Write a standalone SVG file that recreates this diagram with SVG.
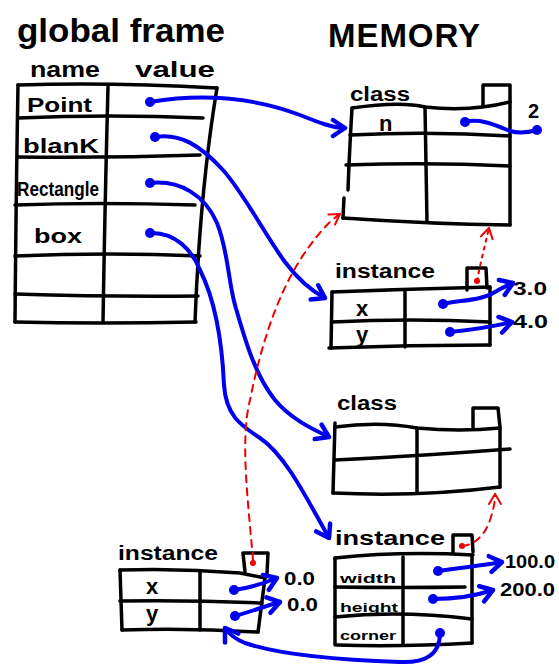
<svg xmlns="http://www.w3.org/2000/svg" width="559" height="666" viewBox="0 0 559 666">
  <style>
    .ink { fill: none; stroke: #000; stroke-width: 3.5; stroke-linecap: round; stroke-linejoin: round; }
    .ref { fill: none; stroke: #0000ee; stroke-width: 4; stroke-linecap: round; stroke-linejoin: round; }
    .ptr { fill: none; stroke: #ee0000; stroke-width: 2; stroke-linecap: round; }
    .dash { stroke-dasharray: 7 6; }
    .dot { stroke-dasharray: 3 5; }
    .src { fill: #0000ee; }
    .rsrc { fill: #ee0000; }
    text { font-family: "Liberation Sans", "DejaVu Sans", sans-serif; font-weight: bold; fill: #000; }
    .title { font-size: 33px; }
    .head { font-size: 22px; }
    .lbl { font-size: 20px; }
    .var { font-size: 22px; }
    .fld { font-size: 12px; }
    .val { font-size: 19px; }
  </style>
  <defs>
    <marker id="blue-head" markerUnits="userSpaceOnUse" viewBox="-16 -11 19 22" markerWidth="19" markerHeight="22" refX="0" refY="0" orient="auto">
      <path d="M-12,-8 L0,0 L-12,8" fill="none" stroke="#0000ee" stroke-width="4.5" stroke-linecap="round" stroke-linejoin="round"/>
    </marker>
    <marker id="red-head" markerUnits="userSpaceOnUse" viewBox="-14 -10 16 20" markerWidth="16" markerHeight="20" refX="0" refY="0" orient="auto">
      <path d="M-10,-6 L0,0 L-10,6" fill="none" stroke="#ee0000" stroke-width="2" stroke-linecap="round" stroke-linejoin="round"/>
    </marker>
  </defs>

  <!-- headings -->
  <text class="title" x="17" y="42" textLength="208" lengthAdjust="spacingAndGlyphs">global frame</text>
  <text class="title" x="328" y="47" font-size="26" textLength="152" lengthAdjust="spacing">MEMORY</text>

  <!-- global frame table -->
  <g id="global-frame">
    <text class="head" x="30" y="77" textLength="70" lengthAdjust="spacingAndGlyphs">name</text>
    <text class="head" x="135" y="77" textLength="80" lengthAdjust="spacingAndGlyphs">value</text>
    <path class="ink" d="M18,85 Q110,82 217,88"/>
    <path class="ink" d="M217,88 Q200,190 195,322"/>
    <path class="ink" d="M18,85 Q16,200 15,322"/>
    <path class="ink" d="M15,322 Q100,324 196,322"/>
    <path class="ink" d="M108,87 Q105,200 103,322"/>
    <path class="ink" d="M18,118 Q110,114 203,118"/>
    <path class="ink" d="M18,157 Q110,158 200,155"/>
    <path class="ink" d="M15,205 Q100,202 195,205"/>
    <path class="ink" d="M15,256 Q110,252 200,256"/>
    <path class="ink" d="M15,294 Q110,297 198,296"/>
    <text class="lbl" x="27" y="112" textLength="65" lengthAdjust="spacingAndGlyphs">Point</text>
    <text class="lbl" x="23" y="153" textLength="76" lengthAdjust="spacingAndGlyphs">blanK</text>
    <text class="lbl" x="17" y="196" font-size="17" textLength="82" lengthAdjust="spacingAndGlyphs">Rectangle</text>
    <text class="lbl" x="34" y="243" textLength="48" lengthAdjust="spacingAndGlyphs">box</text>
  </g>

  <!-- class Point -->
  <g id="class-point">
    <text class="lbl" x="350" y="101" textLength="60" lengthAdjust="spacingAndGlyphs">class</text>
    <path class="ink" d="M483,105 L483,85 L510,85 L510,102"/>
    <path class="ink" d="M352,108 Q400,101 425,107 Q470,112 510,102"/>
    <path class="ink" d="M510,102 L510,225"/>
    <path class="ink" d="M352,108 Q349,160 348,190"/>
    <path class="ink" d="M344,198 L343,218"/>
    <path class="ink" d="M343,218 Q430,224 510,225"/>
    <path class="ink" d="M425,107 L427,222"/>
    <path class="ink" d="M350,135 Q430,131 510,136"/>
    <path class="ink" d="M346,165 Q430,162 510,166"/>
    <text class="var" x="379" y="131">n</text>
    <text class="lbl" x="528" y="118" font-size="23">2</text>
  </g>

  <!-- instance of Point: blank -->
  <g id="instance-blank">
    <text class="lbl" x="335" y="278" textLength="100" lengthAdjust="spacingAndGlyphs">instance</text>
    <path class="ink" d="M467,290 L467,268 L486,268 L487,288"/>
    <path class="ink" d="M332,292 Q410,289 490,287"/>
    <path class="ink" d="M490,287 L490,345"/>
    <path class="ink" d="M332,292 L331,348"/>
    <path class="ink" d="M329,348 Q410,345 490,345"/>
    <path class="ink" d="M405,290 L405,347"/>
    <path class="ink" d="M332,322 Q410,318 490,322"/>
    <text class="var" x="356" y="316">x</text>
    <text class="var" x="356" y="342">y</text>
    <text class="val" x="513" y="295" textLength="34" lengthAdjust="spacingAndGlyphs">3.0</text>
    <text class="val" x="513" y="328" textLength="35" lengthAdjust="spacingAndGlyphs">4.0</text>
  </g>

  <!-- class Rectangle -->
  <g id="class-rectangle">
    <text class="lbl" x="337" y="410" textLength="60" lengthAdjust="spacingAndGlyphs">class</text>
    <path class="ink" d="M473,427 L473,408 L498,408 L500,427"/>
    <path class="ink" d="M335,427 Q380,421 417,428 Q460,432 500,428"/>
    <path class="ink" d="M500,428 L500,487"/>
    <path class="ink" d="M335,423 L333,493"/>
    <path class="ink" d="M333,493 Q420,497 500,487"/>
    <path class="ink" d="M417,428 L417,493"/>
    <path class="ink" d="M335,460 Q420,456 510,449"/>
  </g>

  <!-- instance of Rectangle: box -->
  <g id="instance-box">
    <text class="lbl" x="335" y="545" textLength="110" lengthAdjust="spacingAndGlyphs">instance</text>
    <path class="ink" d="M453,553 L453,535 L472,535 L473,552"/>
    <path class="ink" d="M335,558 Q400,551 473,555"/>
    <path class="ink" d="M472,555 L472,643"/>
    <path class="ink" d="M335,558 L335,645"/>
    <path class="ink" d="M337,645 Q400,647 472,643"/>
    <path class="ink" d="M403,557 L403,645"/>
    <path class="ink" d="M335,587 Q400,588 465,587"/>
    <path class="ink" d="M335,617 Q400,610 472,619"/>
    <text class="fld" x="340" y="583" textLength="56" lengthAdjust="spacingAndGlyphs">width</text>
    <text class="fld" x="340" y="612" textLength="58" lengthAdjust="spacingAndGlyphs">height</text>
    <text class="fld" x="340" y="640" textLength="56" lengthAdjust="spacingAndGlyphs">corner</text>
    <text class="val" x="505" y="568" textLength="50" lengthAdjust="spacingAndGlyphs">100.0</text>
    <text class="val" x="500" y="596" textLength="55" lengthAdjust="spacingAndGlyphs">200.0</text>
  </g>

  <!-- instance of Point: box.corner -->
  <g id="instance-corner">
    <text class="lbl" x="118" y="560" textLength="100" lengthAdjust="spacingAndGlyphs">instance</text>
    <path class="ink" d="M245,572 L243,553 L268,553 L267,574"/>
    <path class="ink" d="M120,570 Q180,568 240,573 L265,578"/>
    <path class="ink" d="M265,578 L258,632"/>
    <path class="ink" d="M120,570 L122,630"/>
    <path class="ink" d="M122,630 Q190,628 258,632"/>
    <path class="ink" d="M200,571 L200,630"/>
    <path class="ink" d="M120,601 Q190,600 262,603"/>
    <text class="var" x="146" y="594">x</text>
    <text class="var" x="146" y="621">y</text>
    <text class="val" x="284" y="585" textLength="31" lengthAdjust="spacingAndGlyphs">0.0</text>
    <text class="val" x="287" y="611" textLength="31" lengthAdjust="spacingAndGlyphs">0.0</text>
  </g>

  <!-- connectors -->
  <g id="connectors">
    <!-- name bindings -->
    <path class="ref" d="M150,102 C210,92 260,100 300,115 C320,123 333,128 345,128" marker-end="url(#blue-head)"/>
    <path class="ref" d="M155,137 C180,133 200,145 223,170 C245,195 265,235 285,262 C297,278 310,290 325,298" marker-end="url(#blue-head)"/>
    <path class="ref" d="M150,183 C180,180 205,195 217,223 C228,250 228,280 235,305 C245,340 255,375 275,400 C290,418 310,428 329,437" marker-end="url(#blue-head)"/>
    <path class="ref" d="M150,233 C175,232 192,250 200,270 C215,300 222,340 224,385 C226,415 240,425 260,438 C285,455 305,495 329,538" marker-end="url(#blue-head)"/>
    <!-- attribute values -->
    <path class="ref" d="M465,122 C480,118 495,125 510,131 C520,134 530,132 537,130"/>
    <path class="ref" d="M443,304 C460,300 480,301 495,292 C502,288 508,285 513,283" marker-end="url(#blue-head)"/>
    <path class="ref" d="M450,332 C470,330 495,326 512,322" marker-end="url(#blue-head)"/>
    <path class="ref" d="M438,571 C460,568 485,565 502,562" marker-end="url(#blue-head)"/>
    <path class="ref" d="M433,599 C455,599 478,595 493,590" marker-end="url(#blue-head)"/>
    <path class="ref" d="M440,633 C440,655 425,663 400,662 C340,660 280,655 245,643 C235,639 229,634 225,628" marker-end="url(#blue-head)"/>
    <path class="ref" d="M234,590 C250,588 262,584 277,578" marker-end="url(#blue-head)"/>
    <path class="ref" d="M235,616 C250,612 265,606 280,602" marker-end="url(#blue-head)"/>
    <circle class="src" cx="150" cy="102" r="5"/>
    <circle class="src" cx="155" cy="137" r="5"/>
    <circle class="src" cx="150" cy="183" r="5"/>
    <circle class="src" cx="150" cy="233" r="5"/>
    <circle class="src" cx="465" cy="122" r="5"/>
    <circle class="src" cx="537" cy="130" r="5"/>
    <circle class="src" cx="443" cy="304" r="5"/>
    <circle class="src" cx="450" cy="332" r="5"/>
    <circle class="src" cx="438" cy="571" r="5"/>
    <circle class="src" cx="433" cy="599" r="5"/>
    <circle class="src" cx="440" cy="633" r="5"/>
    <circle class="src" cx="234" cy="590" r="5"/>
    <circle class="src" cx="235" cy="616" r="5"/>

    <!-- class pointers -->
    <path class="ptr dash" d="M253,560 C248,500 240,440 250,400 C260,350 275,300 300,260 C315,237 328,222 340,214" marker-end="url(#red-head)"/>
    <path class="ptr dot" d="M477,281 C480,265 485,245 489,228" marker-end="url(#red-head)"/>
    <path class="ptr dash" d="M462,546 C475,545 485,535 490,520 C494,508 495,502 495,494" marker-end="url(#red-head)"/>
    <circle class="rsrc" cx="253" cy="563" r="3"/>
    <circle class="rsrc" cx="477" cy="281" r="3"/>
    <circle class="rsrc" cx="462" cy="546" r="3"/>
  </g>
</svg>
